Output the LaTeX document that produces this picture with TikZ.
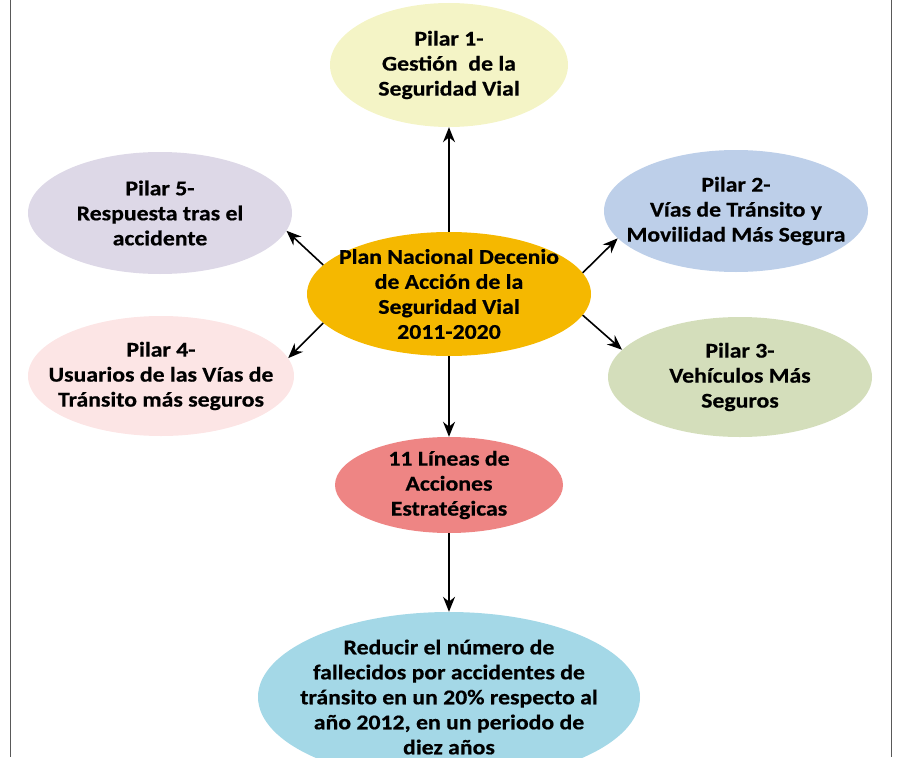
\documentclass[tikz,border=0pt]{standalone}
\usepackage{fontspec}
\setmainfont{Carlito}[FakeStretch=1.13, BoldFeatures={FakeBold=0.6}]
\usepackage{tikz}
\usetikzlibrary{positioning,arrows.meta,shapes.geometric}

\definecolor{pilaryellow}{HTML}{F4F4C6}
\definecolor{pilarlilac}{HTML}{DDD8E7}
\definecolor{pilarblue}{HTML}{BDCFE9}
\definecolor{pilargreen}{HTML}{D4DEBB}
\definecolor{pilarpink}{HTML}{FCE5E5}
\definecolor{plangold}{HTML}{F5B800}
\definecolor{lineasred}{HTML}{EE8584}
\definecolor{metacyan}{HTML}{A4D8E7}

\tikzset{
  pilar/.style={ellipse, inner sep=-26pt, align=center,
    font=\fontsize{21}{25}\selectfont\bfseries},
  flecha/.style={line width=1.6pt, -{Stealth[length=15pt,width=12pt]}},
  marco/.style={line width=1pt, draw=black!65}
}

\begin{document}
\begin{tikzpicture}
      \useasboundingbox (0,0) rectangle (909pt,-757pt);
      \draw[marco] (10pt,0) -- (10pt,-757pt);
      \draw[marco] (891pt,0) -- (891pt,-757pt);

      \node[pilar, fill=plangold, minimum width=284pt, minimum height=124pt] (Plan) at (449pt,-294pt)
        {Plan Nacional Decenio\\de Acción de la\\Seguridad Vial\\2011-2020};
      \node[pilar, fill=pilaryellow, on grid, above=229pt of Plan, minimum width=238pt, minimum height=124pt] (Pilar1)
        {Pilar 1-\\Gestión~ de la\\Seguridad Vial};
      \node[pilar, fill=pilarlilac, on grid, above left=81pt and 289pt of Plan, minimum width=264pt, minimum height=122pt] (Pilar5)
        {Pilar 5-\\Respuesta tras el\\accidente};
      \node[pilar, fill=pilarblue, on grid, above right=83pt and 287pt of Plan, minimum width=264pt, minimum height=122pt] (Pilar2)
        {Pilar 2-\\Vías de Tránsito y\\Movilidad Más Segura};
      \node[pilar, fill=pilarpink, on grid, below left=82pt and 288pt of Plan, minimum width=266pt, minimum height=120pt] (Pilar4)
        {Pilar 4-\\Usuarios de las Vías de\\Tránsito más seguros};
      \node[pilar, fill=pilargreen, on grid, below right=83pt and 291pt of Plan, minimum width=264pt, minimum height=120pt] (Pilar3)
        {Pilar 3-\\Vehículos Más\\Seguros};
      \node[pilar, fill=lineasred, on grid, below=191pt of Plan, minimum width=228pt, minimum height=96pt] (Lineas)
        {11 Líneas de\\Acciones\\Estratégicas};
      \node[pilar, fill=metacyan, on grid, below=212pt of Lineas, minimum width=382pt, minimum height=170pt] (Meta)
        {Reducir el número de\\fallecidos por accidentes de\\tránsito en un 20\% respecto al\\año 2012, en un periodo de\\diez años};

      \draw[flecha] (Plan.north) to (Pilar1.south);
      \draw[flecha] (Plan.167) to (Pilar5.-8);
      \draw[flecha] (Plan.-167) to (Pilar4.8);
      \draw[flecha] (Plan.9) to (Pilar2.-167);
      \draw[flecha] (Plan.-9) to (Pilar3.167);
      \draw[flecha] (Plan.south) to (Lineas.north);
      \draw[flecha] (Lineas.south) to (Meta.north);
    \end{tikzpicture}
\end{document}
